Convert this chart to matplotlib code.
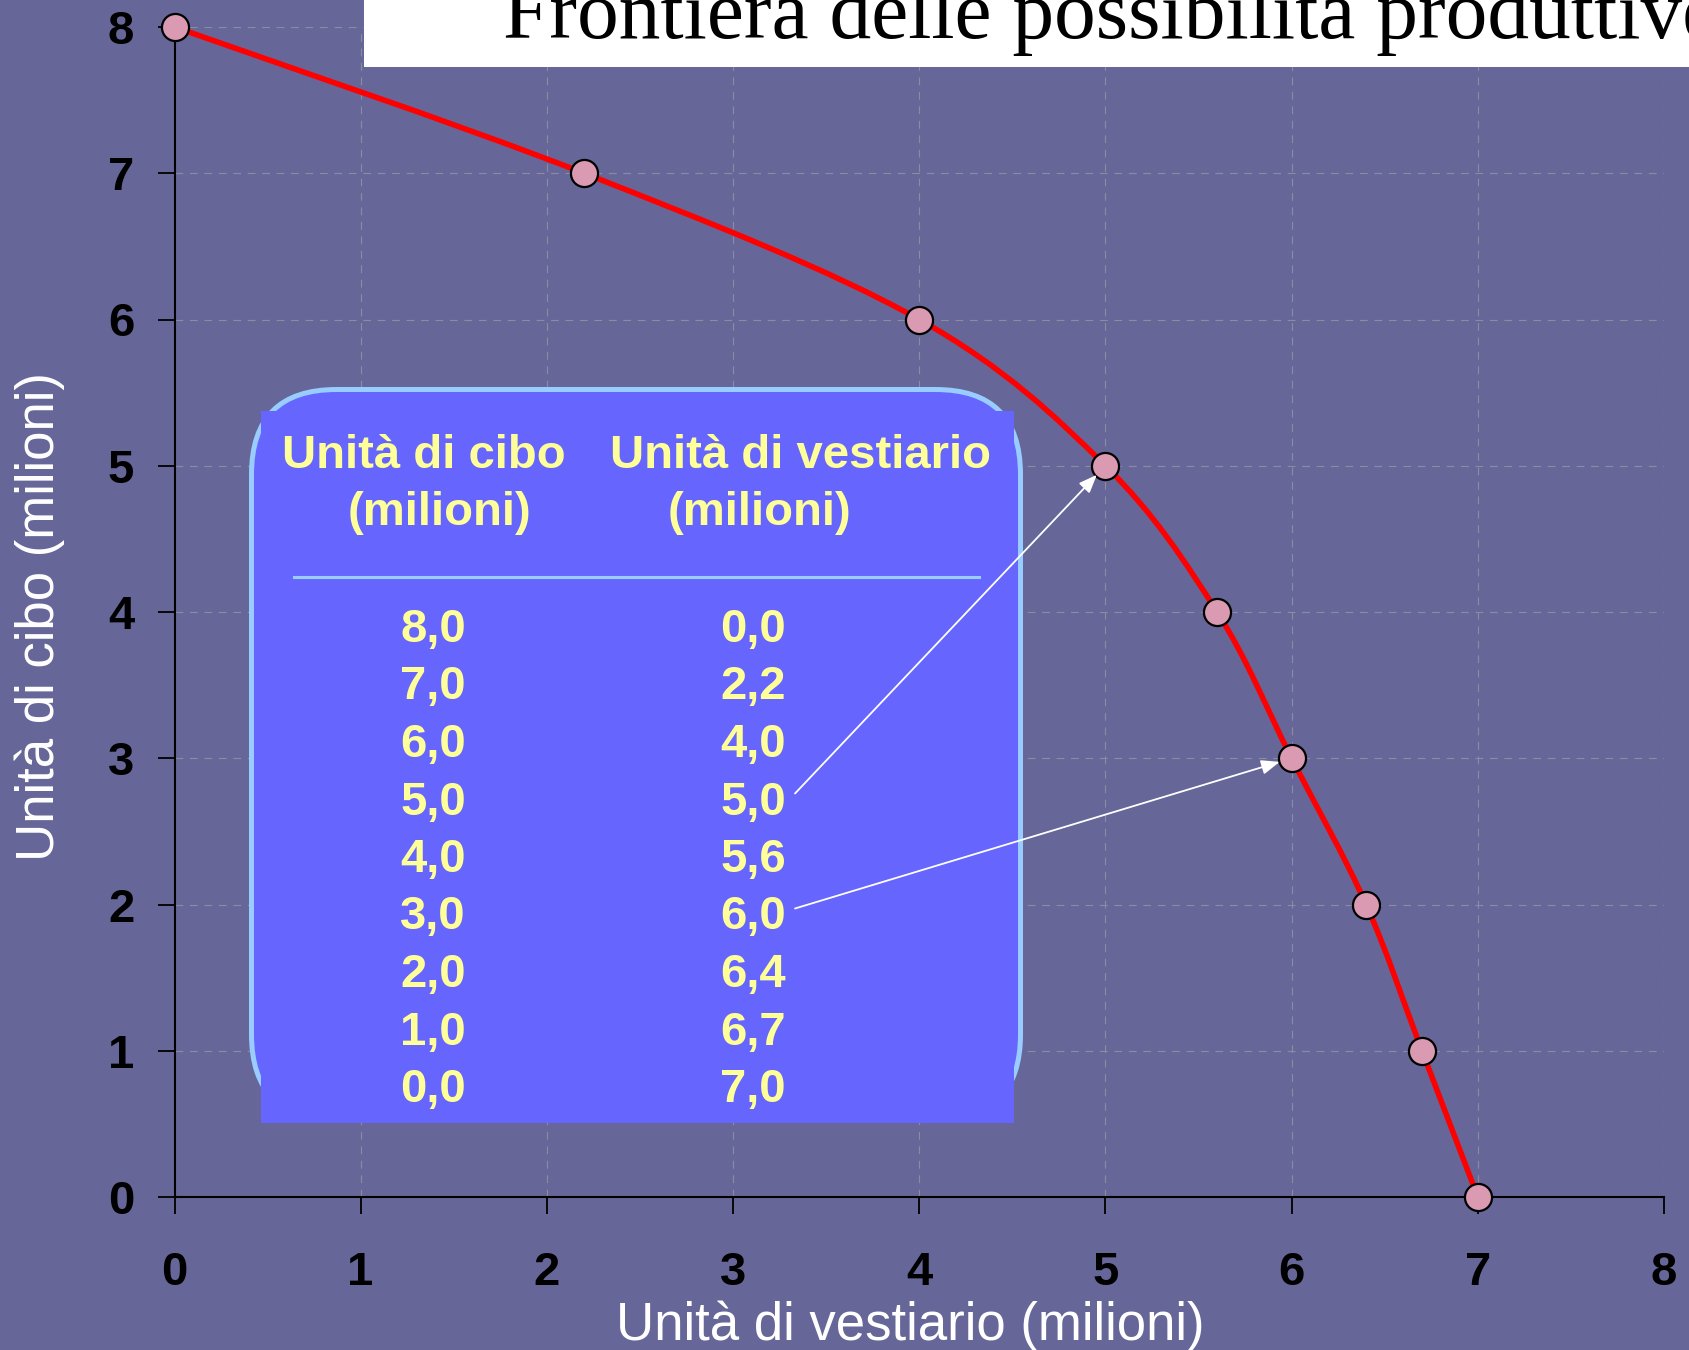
import numpy as np
import matplotlib
matplotlib.use('Agg')
import matplotlib.pyplot as plt
from matplotlib.path import Path
from matplotlib.patches import PathPatch, FancyBboxPatch, Rectangle
from matplotlib.transforms import Affine2D

plt.rcParams['font.family'] = ['Liberation Sans', 'DejaVu Sans']

# data: frontiera delle possibilita produttive
cibo = [8.0, 7.0, 6.0, 5.0, 4.0, 3.0, 2.0, 1.0, 0.0]
vestiario = [0.0, 2.2, 4.0, 5.0, 5.6, 6.0, 6.4, 6.7, 7.0]
ticks = [0, 1, 2, 3, 4, 5, 6, 7, 8]
header_cibo = ['Unità di cibo', '(milioni)']
header_vest = ['Unità di vestiario', '(milioni)']
arrow_rows = [3, 5]   # rows of the table pointing at the curve

bg = '#666699'
yellow = '#FFFF99'
W, H = 1689, 1350

fig = plt.figure(figsize=(W / 100, H / 100), dpi=100, facecolor=bg)
ax = fig.add_axes([174.5 / W, 1 - 1197 / H, 1489.5 / W, 1170 / H], facecolor=bg)
# pixel coords measured from the top-left corner of the figure
px = Affine2D().scale(1 / 100, -1 / 100).translate(0, H / 100) + fig.dpi_scale_trans

ax.set_xlim(0, 8)
ax.set_ylim(0, 8)
ax.set_xticks(ticks, [str(t) for t in ticks], fontsize=34, fontweight='bold')
ax.set_yticks(ticks, [str(t) for t in ticks], fontsize=34, fontweight='bold')
ax.tick_params(axis='both', direction='out', length=12, width=1.3, colors='black')
ax.tick_params(axis='x', pad=27)
ax.tick_params(axis='y', pad=17)
for s in ['top', 'right']:
    ax.spines[s].set_visible(False)
for s in ['left', 'bottom']:
    ax.spines[s].set_linewidth(1.5)
ax.grid(True, color='#8c8ca0', linestyle=(0, (7, 6)), linewidth=0.8)
ax.set_axisbelow(True)

ax.set_xlabel('Unità di vestiario (milioni)', color='white', fontsize=38)
ax.xaxis.set_label_coords((910 - 174.5) / 1489.5, (1197 - 1340) / 1170)
ax.xaxis.label.set_va('baseline')
ax.set_ylabel('Unità di cibo (milioni)', color='white', fontsize=38)
ax.yaxis.set_label_coords((65 - 174.5) / 1489.5, (1197 - 617) / 1170)

# smooth red curve (bezier through the points)
pts = np.column_stack([vestiario, cibo])
ext = np.vstack([pts[0], pts, pts[-1]])
verts = [pts[0]]
codes = [Path.MOVETO]
for i in range(len(pts) - 1):
    p0, p1, p2, p3 = ext[i], ext[i + 1], ext[i + 2], ext[i + 3]
    verts += [p1 + (p2 - p0) / 6, p2 - (p3 - p1) / 6, p2]
    codes += [Path.CURVE4] * 3
ax.add_patch(PathPatch(Path(verts, codes), fill=False, edgecolor='#FF0000',
                       lw=4, zorder=4, clip_on=False))
ax.plot(vestiario, cibo, 'o', ms=19.5, mfc='#DA9AB2', mec='black', mew=1.6,
        zorder=5, clip_on=False)

# table box
ax.add_patch(FancyBboxPatch((251.5, 389.5), 769, 730,
                            boxstyle='round,pad=0,rounding_size=85',
                            transform=px, facecolor='#6666FF', edgecolor='#99CCFF',
                            lw=3.6, zorder=2, clip_on=False))
ax.add_patch(Rectangle((261, 411), 753, 712, transform=px, facecolor='#6666FF',
                       edgecolor='none', zorder=2.1, clip_on=False))
ax.plot([294, 979], [577, 577], color='#99CCFF', lw=2.2, transform=px,
        zorder=2.2, clip_on=False)

tkw = dict(transform=px, color=yellow, fontsize=34, fontweight='bold',
           ha='center', va='baseline', zorder=3)
ax.text(424, 468, header_cibo[0], **tkw)
ax.text(439, 525, header_cibo[1], **tkw)
ax.text(801, 468, header_vest[0], **tkw)
ax.text(760, 525, header_vest[1], **tkw)

row0, step = 642, 57.5
for i, (c, v) in enumerate(zip(cibo, vestiario)):
    yb = row0 + i * step
    ax.text(433, yb, f'{c:.1f}'.replace('.', ','), **tkw)
    ax.text(753, yb, f'{v:.1f}'.replace('.', ','), **tkw)

for r in arrow_rows:
    ax.annotate('', xy=(vestiario[r], cibo[r]), xycoords='data',
                xytext=(795, row0 + r * step - 21), textcoords=px,
                arrowprops=dict(arrowstyle='-|>,head_length=0.55,head_width=0.22',
                                mutation_scale=20, color='white', lw=1.3,
                                shrinkA=0, shrinkB=9),
                zorder=6, annotation_clip=False)

# title box, cut at the top edge as in the slide
fig.add_artist(Rectangle((364 / W, 1 - 67 / H), 1, 67 / H, transform=fig.transFigure,
                         facecolor='white', edgecolor='none', zorder=3))
fig.text(503 / W, 1 - 38 / H, 'Frontiera delle possibilità produttive',
         fontfamily='Liberation Serif', fontsize=60, color='black',
         va='baseline', ha='left', zorder=4)

fig.savefig('out.png', dpi=100, facecolor=bg)
